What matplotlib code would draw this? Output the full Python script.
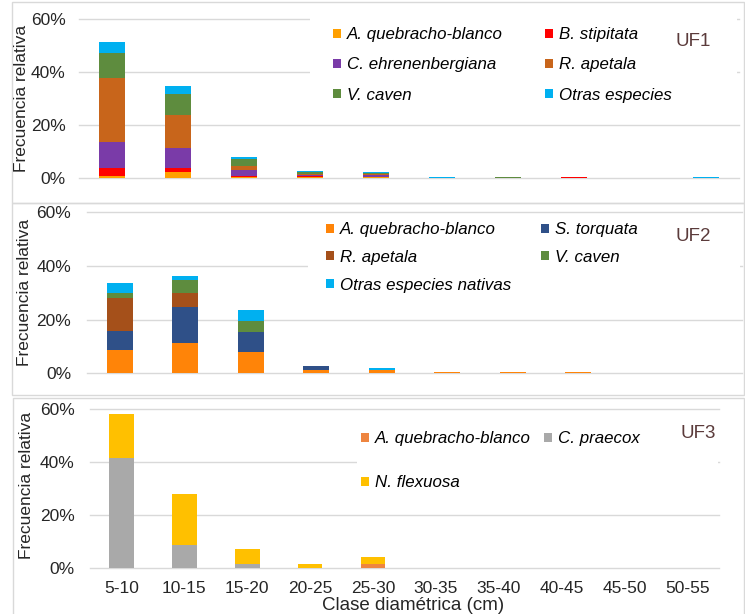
import matplotlib.pyplot as plt
from matplotlib.patches import Patch, Rectangle
from matplotlib.ticker import FuncFormatter
import numpy as np

plt.rcParams['font.family'] = ['Liberation Sans', 'DejaVu Sans']

# Data (relative frequency, %)
clases = ['5-10', '10-15', '15-20', '20-25', '25-30', '30-35', '35-40', '40-45', '45-50', '50-55']

# UF1
uf1_names = ['A. quebracho-blanco', 'B. stipitata', 'C. ehrenenbergiana', 'R. apetala', 'V. caven', 'Otras especies']
uf1_aq = [1.0, 2.4, 0.5, 0.5, 0.5, 0.3, 0.3, 0.0, 0.0, 0.3]
uf1_bs = [2.8, 1.4, 0.3, 0.2, 0.1, 0.0, 0.0, 0.4, 0.0, 0.0]
uf1_ce = [10.0, 7.5, 2.5, 0.5, 0.6, 0.0, 0.0, 0.0, 0.0, 0.0]
uf1_ra = [24.2, 12.6, 1.5, 0.6, 0.4, 0.0, 0.0, 0.0, 0.0, 0.0]
uf1_vc = [9.2, 8.0, 2.5, 0.6, 0.4, 0.0, 0.1, 0.0, 0.0, 0.0]
uf1_ot = [4.1, 3.1, 0.7, 0.4, 0.3, 0.2, 0.15, 0.0, 0.3, 0.15]

# UF2
uf2_names = ['A. quebracho-blanco', 'S. torquata', 'R. apetala', 'V. caven', 'Otras especies nativas']
uf2_aq = [8.7, 11.4, 8.0, 1.2, 1.2, 0.5, 0.5, 0.5, 0.0, 0.0]
uf2_st = [7.2, 13.4, 7.3, 1.5, 0.2, 0.0, 0.0, 0.0, 0.0, 0.0]
uf2_ra = [12.3, 5.3, 0.0, 0.0, 0.0, 0.0, 0.0, 0.0, 0.0, 0.0]
uf2_vc = [1.9, 4.7, 4.1, 0.0, 0.0, 0.0, 0.0, 0.0, 0.0, 0.0]
uf2_ot = [3.4, 1.5, 4.2, 0.0, 0.5, 0.0, 0.0, 0.0, 0.0, 0.0]

# UF3
uf3_names = ['A. quebracho-blanco', 'C. praecox', 'N. flexuosa']
uf3_aq = [0.0, 0.0, 0.0, 0.0, 1.5, 0.0, 0.0, 0.0, 0.0, 0.0]
uf3_cp = [41.8, 8.8, 1.5, 0.0, 0.0, 0.0, 0.0, 0.0, 0.0, 0.0]
uf3_nf = [16.4, 19.4, 5.8, 1.5, 2.9, 0.0, 0.0, 0.0, 0.0, 0.0]

# Colors
uf1_colors = ['#FFA000', '#FF0000', '#7A3BA8', '#C8651B', '#5E8C3E', '#00B0F0']
uf2_colors = ['#FF8408', '#2F5088', '#A5501A', '#5E8C3E', '#00B0F0']
uf3_colors = ['#EE8540', '#A9A9A9', '#FFC000']
C_GRID = '#D9D9D9'
C_TEXT = '#262626'
C_UF = '#5B3B3B'

W, H = 745, 614
fig = plt.figure(figsize=(W / 100, H / 100), dpi=100)


def px_axes(x0, y0, x1, y1):
    return fig.add_axes([x0 / W, 1 - y1 / H, (x1 - x0) / W, (y1 - y0) / H])


def draw_panel(ax, series, colors, names, pad):
    x = np.arange(len(clases))
    bottom = np.zeros(len(clases))
    for vals, col, name in zip(series, colors, names):
        ax.bar(x, vals, width=0.39, bottom=bottom, color=col, label=name, linewidth=0)
        bottom += np.array(vals)
    ax.set_xlim(-0.5, len(clases) - 0.5)
    ax.set_ylim(0, 60)
    ax.set_yticks([0, 20, 40, 60])
    ax.yaxis.set_major_formatter(FuncFormatter(lambda v, _: f'{v:.0f}%'))
    ax.set_xticks(x)
    ax.grid(axis='y', color=C_GRID, linewidth=1)
    for gl in ax.get_ygridlines():
        gl.set_clip_on(False)
    ax.set_axisbelow(True)
    for s in ax.spines.values():
        s.set_visible(False)
    ax.tick_params(axis='y', length=0, labelsize=12.5, labelcolor=C_TEXT, pad=pad)
    ax.tick_params(axis='x', length=0, labelbottom=False)


def add_legend(ax, colors, names, order, ax_px, ay_px, colspace, labspace, box):
    # white legend area hiding the gridlines behind it
    x0, y0, x1, y1 = box
    ax.add_patch(Rectangle((x0 / W, 1 - y1 / H), (x1 - x0) / W, (y1 - y0) / H,
                           transform=fig.transFigure, facecolor='white',
                           edgecolor='none', zorder=2, clip_on=False))
    handles = [Patch(facecolor=colors[i], label=names[i]) for i in order]
    ax.legend(handles=handles, loc='upper left',
              bbox_to_anchor=(ax_px / W, 1 - ay_px / H), bbox_transform=fig.transFigure,
              ncol=2, frameon=False, prop={'style': 'italic', 'size': 12.2},
              handlelength=0.45, handleheight=0.45, handletextpad=0.35,
              columnspacing=colspace, labelspacing=labspace, borderpad=0.6,
              borderaxespad=0)


# Panel frames
for (x0, y0, x1, y1) in [(12, 2, 744, 203), (12, 203, 744, 395), (13, 398, 744, 630)]:
    fig.patches.append(Rectangle((x0 / W, 1 - y1 / H), (x1 - x0) / W, (y1 - y0) / H,
                                 transform=fig.transFigure, fill=False,
                                 edgecolor=C_GRID, linewidth=1))

# UF1
ax1 = px_axes(79, 19.3, 739, 178.3)
draw_panel(ax1, [uf1_aq, uf1_bs, uf1_ce, uf1_ra, uf1_vc, uf1_ot], uf1_colors, uf1_names, 9.5)
add_legend(ax1, uf1_colors, uf1_names, [0, 2, 4, 1, 3, 5], 323, 17, 2.5, 0.9,
           (310, 10, 737, 110))
fig.text(693 / W, 1 - 41 / H, 'UF1', color=C_UF, fontsize=13.5, ha='center', va='center')
fig.text(22 / W, 1 - 98 / H, 'Frecuencia relativa', rotation=90, fontsize=12.5,
         color=C_TEXT, ha='center', va='center')

# UF2
ax2 = px_axes(87, 212.3, 742, 373.3)
draw_panel(ax2, [uf2_aq, uf2_st, uf2_ra, uf2_vc, uf2_ot], uf2_colors, uf2_names, 11.5)
add_legend(ax2, uf2_colors, uf2_names, [0, 2, 4, 1, 3], 316, 212, 1.8, 0.75,
           (308, 215, 740, 305))
fig.text(693 / W, 1 - 237 / H, 'UF2', color=C_UF, fontsize=13.5, ha='center', va='center')
fig.text(25 / W, 1 - 292 / H, 'Frecuencia relativa', rotation=90, fontsize=12.5,
         color=C_TEXT, ha='center', va='center')

# UF3
ax3 = px_axes(90, 409.3, 719, 568.3)
draw_panel(ax3, [uf3_aq, uf3_cp, uf3_nf], uf3_colors, uf3_names, 11)
add_legend(ax3, uf3_colors, uf3_names, [0, 2, 1], 351, 421, 0.8, 1.72,
           (357, 414, 718, 505))
ax3.tick_params(axis='x', labelbottom=True, labelsize=12.5, labelcolor=C_TEXT, pad=9)
ax3.set_xticklabels(clases)
fig.text(698 / W, 1 - 433 / H, 'UF3', color=C_UF, fontsize=13.5, ha='center', va='center')
fig.text(27 / W, 1 - 485 / H, 'Frecuencia relativa', rotation=90, fontsize=12.5,
         color=C_TEXT, ha='center', va='center')
fig.text(413 / W, 1 - 605 / H, 'Clase diamétrica (cm)', fontsize=13.5,
         color=C_TEXT, ha='center', va='center')

fig.savefig('out.png', dpi=100, facecolor='white')
